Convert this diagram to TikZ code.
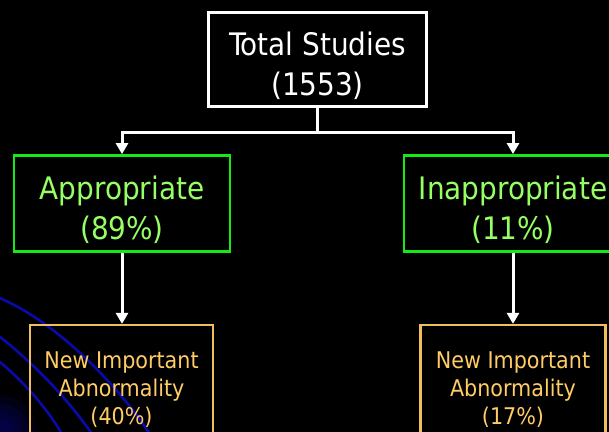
\documentclass[tikz,border=0pt]{standalone}
\usepackage{fontspec}
\setmainfont{DejaVu Sans Condensed}
\usepackage{tikz}
\usetikzlibrary{arrows.meta,positioning}

\definecolor{gborder}{RGB}{20,235,20}
\definecolor{gtext}{RGB}{150,255,100}
\definecolor{oborder}{RGB}{240,190,90}
\definecolor{otext}{RGB}{255,204,102}
\definecolor{swirl}{RGB}{10,10,170}

\newcommand{\lift}{\rule{0pt}{36pt}}

\begin{document}
\begin{tikzpicture}[
  x=1pt, y=1pt,
  >={Triangle[length=11pt,width=12pt]},
  whitebox/.style={
    draw=white, line width=2.8pt, text=white,
    align=center, inner sep=0pt,
    font=\fontsize{31}{40}\selectfont,
    minimum width=218pt, minimum height=94pt
  },
  greenbox/.style={
    draw=gborder, line width=2.8pt, text=gtext,
    align=center, inner sep=0pt,
    font=\fontsize{31}{40}\selectfont,
    minimum width=216pt, minimum height=96pt
  },
  orangebox/.style={
    draw=oborder, line width=2.4pt, text=otext,
    align=center, inner sep=0pt,
    font=\fontsize{23}{28}\selectfont,
    minimum width=183pt, minimum height=129pt
  },
  edge/.style={->, draw=white, line width=3pt}
]

% Background
\useasboundingbox (0,0) rectangle (609,-431);
\clip (0,0) rectangle (609,-431);
\fill[black] (-5,5) rectangle (614,-436);
\foreach \r in {36,28,20,12}
  \fill[swirl, opacity=0.12] (0,-431) circle (\r);
\draw[swirl, line width=2.6pt] (-5,-296) .. controls (50,-318) and (110,-375) .. (150,-434);
\draw[swirl, line width=2.6pt] (-5,-333) .. controls (30,-360) and (65,-395) .. (92,-434);
\draw[swirl, line width=2.6pt] (-5,-358) .. controls (20,-378) and (45,-405) .. (62,-434);

% Root Node
\node[whitebox] (total) at (317.5,-59.5) {\lift Total Studies\\(1553)};

% Level 1
\node[greenbox] (appr) at (122,-203.5) {\lift Appropriate\\(89\%)};
\node[greenbox, minimum width=218pt] (inappr) at (513,-203.5) {\lift Inappropriate\\(11\%)};

% Level 2
\node[orangebox, below=71pt of appr.south, anchor=north, xshift=-0.5pt] (abnl)
  {New Important\\Abnormality\\(40\%)};
\node[orangebox, below=71pt of inappr.south, anchor=north, minimum width=185pt] (abnr)
  {New Important\\Abnormality\\(17\%)};

% Edges
\coordinate (split) at ([yshift=-25pt]total.south);
\draw[white, line width=3pt] (total.south) -- (split);
\draw[edge] (split) -| (appr.north);
\draw[edge] (split) -| (inappr.north);

\draw[edge] (appr.south) -- (abnl.north -| appr.south);
\draw[edge] (inappr.south) -- (abnr.north -| inappr.south);

\end{tikzpicture}
\end{document}
